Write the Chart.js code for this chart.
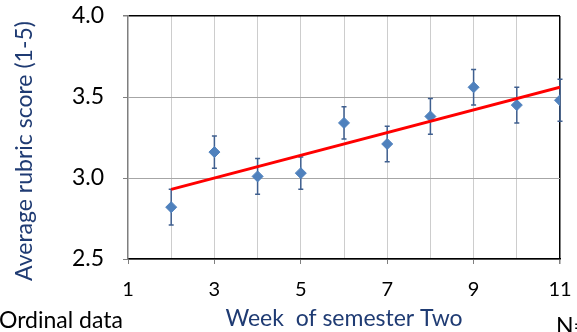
<!DOCTYPE html>
<html>
<head>
<meta charset="utf-8">
<script src="https://cdn.jsdelivr.net/npm/chart.js@4/dist/chart.umd.min.js"></script>
<style>
  html, body { margin: 0; padding: 0; background: #ffffff; }
  #wrap { width: 577px; height: 332px; position: relative; }
</style>
</head>
<body>
<div id="wrap"><canvas id="c" width="577" height="332"></canvas></div>
<script>
// Weekly average rubric scores with their error margins
const weeks = [2, 3, 4, 5, 6, 7, 8, 9, 10, 11];
const avgScores = [2.82, 3.16, 3.01, 3.03, 3.34, 3.21, 3.38, 3.56, 3.45, 3.48];
const scoreErrors = [0.11, 0.10, 0.11, 0.10, 0.10, 0.11, 0.11, 0.11, 0.11, 0.13];

// Linear trend line end points
const trendWeeks = [2, 11];
const trendScores = [2.93, 3.56];

// Axis ticks
const yTicks = [2.5, 3.0, 3.5, 4.0];
const xLabelWeeks = [1, 3, 5, 7, 9, 11];

const FONT = "Lato, 'Open Sans', sans-serif";
const TITLE_BLUE = '#1f3b73';

// Vertical error bars drawn through the chart's own scales
const errorBars = {
  id: 'errorBars',
  beforeDatasetsDraw(chart) {
    const { ctx, scales: { x, y } } = chart;
    ctx.save();
    ctx.strokeStyle = '#3f5f8f';
    ctx.lineWidth = 1.5;
    weeks.forEach((w, i) => {
      const px = x.getPixelForValue(w);
      const top = y.getPixelForValue(avgScores[i] + scoreErrors[i]);
      const bot = y.getPixelForValue(avgScores[i] - scoreErrors[i]);
      ctx.beginPath();
      ctx.moveTo(px, top); ctx.lineTo(px, bot);
      ctx.moveTo(px - 2.5, top); ctx.lineTo(px + 2.5, top);
      ctx.moveTo(px - 2.5, bot); ctx.lineTo(px + 2.5, bot);
      ctx.stroke();
    });
    ctx.restore();
  }
};

// Vertical axis title and footnote texts
const annotations = {
  id: 'annotations',
  afterDraw(chart) {
    const { ctx } = chart;
    ctx.save();
    ctx.font = '23px ' + FONT;
    ctx.fillStyle = TITLE_BLUE;
    ctx.textAlign = 'center';
    ctx.textBaseline = 'middle';
    ctx.translate(25, 151);
    ctx.rotate(-Math.PI / 2);
    ctx.fillText('Average rubric score (1-5)', 0, 0);
    ctx.restore();

    ctx.save();
    ctx.fillStyle = '#000000';
    ctx.font = '23px ' + FONT;
    ctx.textBaseline = 'alphabetic';
    ctx.textAlign = 'left';
    ctx.fillText('Ordinal data', -1, 328);
    ctx.fillText('N=', 556, 334);
    ctx.restore();
  }
};

new Chart(document.getElementById('c'), {
  type: 'scatter',
  data: {
    datasets: [
      {
        type: 'line',
        label: 'Trend',
        data: trendWeeks.map((w, i) => ({ x: w, y: trendScores[i] })),
        borderColor: '#ff0000',
        borderWidth: 3,
        pointRadius: 0,
        fill: false,
        order: 1
      },
      {
        label: 'Average rubric score',
        data: weeks.map((w, i) => ({ x: w, y: avgScores[i] })),
        pointStyle: 'rectRot',
        pointRadius: 5.5,
        pointHoverRadius: 5.5,
        backgroundColor: '#4f81bd',
        borderColor: '#4f81bd',
        borderWidth: 1,
        order: 2
      }
    ]
  },
  options: {
    responsive: false,
    animation: false,
    events: [],
    layout: { padding: { left: 0, right: 17, top: 16, bottom: 0 } },
    plugins: { legend: { display: false }, tooltip: { enabled: false } },
    scales: {
      x: {
        type: 'linear',
        min: 1, max: 11,
        afterBuildTicks(scale) {
          scale.ticks = [1].concat(weeks).map(v => ({ value: v }));
        },
        afterFit(scale) {
          scale.height = 73;
          scale.paddingLeft = 0;
          scale.paddingRight = 0;
        },
        ticks: {
          font: { family: FONT, size: 20 },
          color: '#000000',
          padding: 14,
          maxRotation: 0,
          autoSkip: false,
          callback: (v) => xLabelWeeks.includes(v) ? String(v) : ''
        },
        grid: {
          color: (c) => c.tick && c.tick.value === 11 ? '#000000' : (c.tick && c.tick.value === 1 ? 'rgba(0,0,0,0)' : '#cdcdcd'),
          lineWidth: (c) => c.tick && c.tick.value === 11 ? 1.5 : 1,
          tickColor: (c) => c.tick && xLabelWeeks.includes(c.tick.value) ? '#808080' : 'rgba(0,0,0,0)',
          tickLength: 5,
          drawTicks: true
        },
        border: { display: true, color: '#000000', width: 1.5 },
        title: {
          display: true,
          text: 'Week  of semester Two',
          color: TITLE_BLUE,
          font: { family: FONT, size: 23 },
          padding: { top: 4, bottom: 0 }
        }
      },
      y: {
        type: 'linear',
        min: 2.5, max: 4.0,
        afterBuildTicks(scale) { scale.ticks = yTicks.map(v => ({ value: v })); },
        afterFit(scale) {
          scale.width = 128;
          scale.paddingTop = 0;
          scale.paddingBottom = 0;
        },
        ticks: {
          font: { family: FONT, size: 23 },
          color: '#000000',
          padding: 19,
          callback: (v) => Number(v).toFixed(1)
        },
        grid: {
          color: (c) => c.tick && c.tick.value === 4.0 ? '#000000' : '#a6a6a6',
          lineWidth: (c) => c.tick && c.tick.value === 4.0 ? 1.5 : 1,
          tickColor: '#808080',
          tickLength: 5
        },
        border: { display: true, color: '#7f7f7f', width: 1.5 }
      }
    }
  },
  plugins: [errorBars, annotations]
});
</script>
</body>
</html>
